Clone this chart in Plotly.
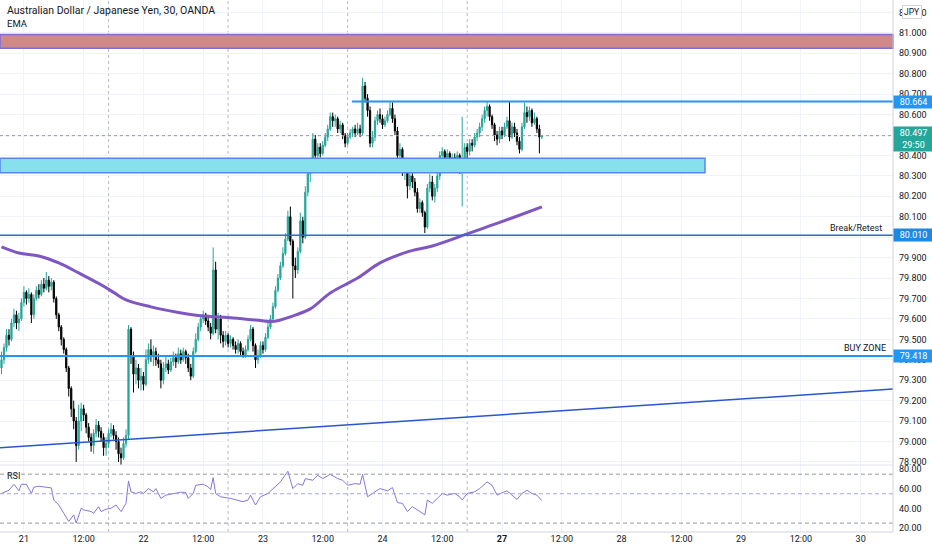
import plotly.graph_objects as go

# AUD/JPY 30-minute candles, bar index 0 = day 21 00:00 (48 bars per day)
first_open = 79.36
close = [
    79.40, 79.46, 79.52, 79.50, 79.58, 79.62, 79.58, 79.60, 79.68, 79.73,
    79.70, 79.72, 79.62, 79.70, 79.74, 79.72, 79.77, 79.75, 79.79, 79.76,
    79.78, 79.70, 79.62, 79.56, 79.50, 79.45, 79.36, 79.26, 79.16, 79.10,
    78.98, 79.10, 79.16, 79.13, 79.07, 79.02, 78.98, 79.04, 79.08, 79.05,
    79.02, 78.97, 78.99, 79.04, 79.06, 79.03, 79.00, 78.94, 78.92, 78.99,
    79.03, 79.55, 79.42, 79.33, 79.36, 79.30, 79.32, 79.28, 79.40, 79.45,
    79.42, 79.44, 79.40, 79.38, 79.30, 79.36, 79.38, 79.35, 79.39, 79.41,
    79.39, 79.43, 79.40, 79.44, 79.41, 79.36, 79.32, 79.44, 79.50, 79.56,
    79.60, 79.62, 79.59, 79.56, 79.53, 79.84, 79.55, 79.60, 79.52, 79.49,
    79.52, 79.48, 79.50, 79.47, 79.45, 79.48, 79.44, 79.42, 79.45, 79.50,
    79.55, 79.47, 79.40, 79.42, 79.47, 79.45, 79.51, 79.56, 79.60, 79.66,
    79.74, 79.80, 79.86, 79.92, 79.99, 80.10, 79.98, 79.86, 79.84, 79.93,
    80.08, 80.00, 80.22, 80.31, 80.37, 80.48, 80.40, 80.44, 80.41, 80.45,
    80.49, 80.53, 80.59, 80.57, 80.58, 80.53, 80.55, 80.50, 80.46, 80.49,
    80.51, 80.53, 80.51, 80.53, 80.51, 80.74, 80.68, 80.62, 80.46, 80.49,
    80.57, 80.60, 80.58, 80.55, 80.57, 80.60, 80.63, 80.58, 80.52, 80.40,
    80.43, 80.33, 80.36, 80.25, 80.30, 80.27, 80.22, 80.14, 80.17, 80.12,
    80.05, 80.24, 80.27, 80.20, 80.24, 80.30, 80.40, 80.42, 80.39, 80.41,
    80.36, 80.39, 80.37, 80.40, 80.33, 80.38, 80.44, 80.42, 80.46, 80.45,
    80.49, 80.51, 80.54, 80.58, 80.62, 80.64, 80.59, 80.55, 80.50, 80.48,
    80.52, 80.50, 80.54, 80.57, 80.49, 80.54, 80.51, 80.47, 80.43, 80.54,
    80.61, 80.59, 80.62, 80.56, 80.58, 80.53, 80.49, 80.497,
]
high = [
    79.44, 79.48, 79.55, 79.55, 79.60, 79.65, 79.64, 79.63, 79.70, 79.76,
    79.74, 79.75, 79.73, 79.72, 79.76, 79.77, 79.79, 79.80, 79.83, 79.81,
    79.80, 79.79, 79.71, 79.63, 79.57, 79.51, 79.46, 79.37, 79.27, 79.20,
    79.12, 79.18, 79.19, 79.18, 79.14, 79.09, 79.04, 79.06, 79.11, 79.10,
    79.07, 79.04, 79.02, 79.06, 79.09, 79.08, 79.05, 79.02, 78.97, 79.02,
    79.06, 79.57, 79.56, 79.44, 79.40, 79.38, 79.36, 79.34, 79.45, 79.48,
    79.50, 79.47, 79.46, 79.43, 79.40, 79.39, 79.42, 79.40, 79.41, 79.44,
    79.43, 79.46, 79.45, 79.46, 79.45, 79.43, 79.38, 79.46, 79.53, 79.58,
    79.62, 79.64, 79.63, 79.61, 79.58, 79.95, 79.88, 79.63, 79.62, 79.54,
    79.54, 79.53, 79.52, 79.51, 79.49, 79.50, 79.49, 79.46, 79.47, 79.52,
    79.57, 79.56, 79.48, 79.45, 79.49, 79.49, 79.53, 79.58, 79.62, 79.68,
    79.76, 79.82, 79.88, 79.95, 80.02, 80.13, 80.15, 79.99, 79.90, 79.95,
    80.12, 80.10, 80.25, 80.34, 80.39, 80.51, 80.50, 80.46, 80.46, 80.47,
    80.51, 80.55, 80.61, 80.61, 80.60, 80.59, 80.57, 80.56, 80.51, 80.51,
    80.53, 80.54, 80.55, 80.56, 80.55, 80.78, 80.76, 80.70, 80.64, 80.52,
    80.59, 80.62, 80.63, 80.60, 80.59, 80.62, 80.66, 80.66, 80.60, 80.54,
    80.46, 80.44, 80.39, 80.37, 80.33, 80.32, 80.29, 80.24, 80.19, 80.18,
    80.13, 80.26, 80.31, 80.30, 80.26, 80.33, 80.42, 80.44, 80.43, 80.43,
    80.42, 80.41, 80.41, 80.42, 80.41, 80.59, 80.46, 80.46, 80.48, 80.48,
    80.51, 80.53, 80.56, 80.60, 80.64, 80.665, 80.65, 80.60, 80.56, 80.52,
    80.54, 80.54, 80.56, 80.59, 80.665, 80.56, 80.56, 80.53, 80.49, 80.56,
    80.66, 80.64, 80.64, 80.63, 80.61, 80.59, 80.55, 80.50,
]
low = [
    79.33, 79.38, 79.44, 79.47, 79.49, 79.56, 79.55, 79.54, 79.59, 79.66,
    79.67, 79.68, 79.58, 79.60, 79.69, 79.70, 79.71, 79.73, 79.74, 79.73,
    79.74, 79.68, 79.60, 79.54, 79.47, 79.43, 79.34, 79.22, 79.12, 79.06,
    78.90, 78.96, 79.05, 79.10, 79.04, 79.00, 78.95, 78.94, 79.02, 79.02,
    79.00, 78.93, 78.93, 78.97, 79.02, 79.01, 78.96, 78.90, 78.885, 78.91,
    78.97, 79.01, 79.38, 79.24, 79.28, 79.26, 79.25, 79.25, 79.27, 79.38,
    79.39, 79.37, 79.37, 79.36, 79.26, 79.28, 79.34, 79.33, 79.34, 79.37,
    79.36, 79.38, 79.38, 79.39, 79.38, 79.34, 79.30, 79.31, 79.43, 79.49,
    79.54, 79.58, 79.57, 79.54, 79.50, 79.52, 79.53, 79.50, 79.48, 79.46,
    79.47, 79.46, 79.46, 79.45, 79.43, 79.43, 79.42, 79.41, 79.41, 79.44,
    79.49, 79.44, 79.36, 79.38, 79.41, 79.43, 79.44, 79.50, 79.55, 79.59,
    79.65, 79.73, 79.79, 79.85, 79.91, 79.98, 79.96, 79.70, 79.80, 79.82,
    79.92, 79.97, 79.99, 80.20, 80.27, 80.36, 80.38, 80.38, 80.39, 80.40,
    80.44, 80.47, 80.52, 80.54, 80.54, 80.51, 80.51, 80.48, 80.44, 80.45,
    80.48, 80.49, 80.49, 80.50, 80.49, 80.50, 80.66, 80.59, 80.44, 80.44,
    80.47, 80.55, 80.56, 80.53, 80.54, 80.56, 80.59, 80.56, 80.50, 80.37,
    80.37, 80.30, 80.28, 80.19, 80.23, 80.24, 80.20, 80.12, 80.12, 80.10,
    80.02, 80.04, 80.22, 80.18, 80.17, 80.22, 80.28, 80.38, 80.37, 80.37,
    80.34, 80.34, 80.35, 80.35, 80.31, 80.15, 80.33, 80.38, 80.40, 80.42,
    80.44, 80.47, 80.49, 80.52, 80.56, 80.59, 80.57, 80.53, 80.47, 80.45,
    80.46, 80.48, 80.49, 80.53, 80.47, 80.48, 80.49, 80.45, 80.41, 80.42,
    80.53, 80.56, 80.57, 80.54, 80.55, 80.51, 80.41, 80.48,
]
open_ = [first_open] + close[:-1]  # FX bars open at the prior close
bars = list(range(-9, -9 + len(close)))

# EMA
ema_bar = [-9, -2, 6, 14, 22, 31, 36, 41, 51, 61, 71, 84, 95, 99, 103,
           107, 115, 123, 134, 143, 154, 164, 178, 187, 196, 208]
ema_val = [79.953, 79.923, 79.908, 79.874, 79.825, 79.767, 79.730, 79.693,
           79.659, 79.634, 79.615, 79.605, 79.592, 79.587, 79.595, 79.610,
           79.649, 79.727, 79.800, 79.874, 79.928, 79.957, 80.016, 80.055,
           80.094, 80.148]

# RSI
rsi_bar = [-9, -6, -4, -2, -1, 1, 3, 4, 6, 9, 11, 12, 14, 16, 18, 20, 21, 23,
           24, 27, 28, 30, 31, 33, 35, 37, 39, 41, 42, 43, 45, 47, 48, 50, 52,
           53, 55, 57, 60, 63, 65, 66, 68, 69, 72, 74, 75, 76, 77, 79, 83, 86,
           88, 90, 91, 93, 95, 98, 100, 103, 106, 108, 110, 112, 113, 116, 118,
           120, 123, 126, 128, 130, 133, 135, 136, 138, 140, 143, 146, 148,
           150, 152, 154, 156, 158, 161, 162, 164, 166, 168, 170, 173, 175,
           176, 178, 181, 183, 186, 188, 190, 192, 194, 196, 198, 200, 202,
           203, 204, 206, 208]
rsi_val = [55.3, 58.6, 64.7, 58.0, 64.7, 64.7, 55.3, 61.7, 62.7, 62.0, 61.0,
           48.6, 43.5, 35.1, 26.7, 33.4, 25.0, 40.2, 38.5, 36.8, 35.1, 41.8,
           36.8, 39.2, 40.2, 43.5, 36.8, 45.2, 68.1, 57.0, 55.3, 57.0, 55.3,
           60.3, 57.0, 60.3, 50.2, 53.6, 55.3, 56.6, 56.3, 50.2, 55.3, 63.7,
           64.7, 62.0, 59.3, 71.5, 55.3, 51.9, 50.2, 48.6, 46.9, 48.6, 53.6,
           43.5, 51.9, 55.3, 60.3, 67.1, 78.0, 60.3, 65.4, 63.7, 70.5, 68.8,
           73.9, 70.5, 74.9, 70.5, 68.8, 63.7, 65.4, 64.7, 74.9, 51.9, 55.3,
           60.3, 58.0, 61.3, 45.9, 45.2, 36.8, 41.8, 38.5, 33.4, 48.6, 45.2,
           50.2, 55.3, 53.6, 55.3, 51.9, 48.6, 55.3, 57.0, 60.3, 67.1, 63.7,
           53.6, 56.0, 58.0, 53.6, 49.2, 55.3, 58.6, 57.0, 55.3, 53.6, 47.9]

# x-axis labels
tick_bars = [0, 24, 48, 72, 96, 120, 144, 168, 192, 216, 240, 264, 288, 312, 336]
tick_text = ['21', '12:00', '22', '12:00', '23', '12:00', '24', '12:00',
             '<b>27</b>', '12:00', '28', '12:00', '29', '12:00', '30']
session_breaks = [34, 82, 130, 178]

# drawn levels and zones
last_price = 80.497
countdown = '29:50'
resistance = 80.664
resistance_start = 131.7
break_retest = 80.010
buy_zone = 79.418
red_zone = (80.925, 80.992)
cyan_zone = (80.316, 80.387)
cyan_zone_end = 273.5
trend_start = (-9.6, 78.969)
trend_end = (349, 79.257)

x_range = [-9.6, 349]
price_range = [78.885, 81.161]
price_ticks = [round(78.9 + 0.1 * k, 1) for k in range(23)]
rsi_range = [15.9, 84.4]
rsi_bands = [75, 55, 25]

UP = '#26a69a'
DOWN = '#000000'
TXT = '#131722'
FONT = 'Roboto'
PANE = 67 / 532

fig = go.Figure()
fig.add_trace(go.Candlestick(
    x=bars, open=open_, high=high, low=low, close=close,
    increasing=dict(line=dict(color=UP, width=1), fillcolor=UP),
    decreasing=dict(line=dict(color=DOWN, width=1), fillcolor=DOWN),
    whiskerwidth=0, xaxis='x', yaxis='y', showlegend=False))
fig.add_trace(go.Scatter(
    x=ema_bar, y=ema_val, mode='lines', yaxis='y', showlegend=False,
    line=dict(color='#7e57c2', width=3, shape='spline')))
fig.add_trace(go.Scatter(
    x=rsi_bar, y=rsi_val, mode='lines', yaxis='y2', showlegend=False,
    line=dict(color='#8579d6', width=1)))

shapes = []
# zones
shapes.append(dict(type='rect', xref='paper', yref='y', x0=0, x1=1,
                   y0=red_zone[0], y1=red_zone[1], fillcolor='#d08888',
                   line=dict(color='#7b6fd6', width=1.5), layer='above'))
shapes.append(dict(type='rect', xref='x', yref='y', x0=x_range[0], x1=cyan_zone_end,
                   y0=cyan_zone[0], y1=cyan_zone[1], fillcolor='#86e1ec',
                   line=dict(color='#5b86e8', width=1.5), layer='above'))
# levels
shapes.append(dict(type='line', xref='x', yref='y', x0=resistance_start, x1=x_range[1],
                   y0=resistance, y1=resistance, line=dict(color='#2196f3', width=2)))
shapes.append(dict(type='line', xref='paper', yref='y', x0=0, x1=1,
                   y0=break_retest, y1=break_retest, line=dict(color='#1e6fdc', width=1.5)))
shapes.append(dict(type='line', xref='paper', yref='y', x0=0, x1=1,
                   y0=buy_zone, y1=buy_zone, line=dict(color='#2196f3', width=2)))
shapes.append(dict(type='line', xref='x', yref='y', x0=trend_start[0], x1=trend_end[0],
                   y0=trend_start[1], y1=trend_end[1], line=dict(color='#2a55d0', width=1.5)))
shapes.append(dict(type='line', xref='paper', yref='y', x0=0, x1=1,
                   y0=last_price, y1=last_price, line=dict(color='#9598a1', width=1, dash='dot')))
# session breaks
for b in session_breaks:
    shapes.append(dict(type='line', xref='x', yref='paper', x0=b, x1=b, y0=0, y1=1,
                       line=dict(color='#b8bbc4', width=1, dash='3px,3px'), layer='below'))
# rsi bands
for v, c in zip(rsi_bands, ['#9598a1', '#a3a3e6', '#9598a1']):
    shapes.append(dict(type='line', xref='paper', yref='y2', x0=0, x1=1, y0=v, y1=v,
                       line=dict(color=c, width=1, dash='4px,3px')))
# pane borders
shapes.append(dict(type='line', xref='paper', yref='paper', x0=0, x1=1, y0=PANE, y1=PANE,
                   line=dict(color='#e0e3eb', width=1)))
shapes.append(dict(type='line', xref='paper', yref='paper', x0=0, x1=1, y0=0, y1=0,
                   line=dict(color='#d1d4dc', width=1)))
shapes.append(dict(type='line', xref='paper', yref='paper', x0=1, x1=1, y0=0, y1=1,
                   line=dict(color='#d1d4dc', width=1)))

ann = []
ann.append(dict(text='Australian Dollar / Japanese Yen, 30, OANDA', xref='paper', yref='paper',
                x=0.006, y=0.981, xanchor='left', yanchor='middle', showarrow=False,
                font=dict(family=FONT, size=10.5, color=TXT)))
ann.append(dict(text='EMA', xref='paper', yref='paper', x=0.006, y=0.955,
                xanchor='left', yanchor='middle', showarrow=False,
                font=dict(family=FONT, size=9.5, color=TXT)))
ann.append(dict(text='RSI', xref='paper', yref='paper', x=0.006, y=0.105,
                xanchor='left', yanchor='middle', showarrow=False,
                font=dict(family=FONT, size=9, color=TXT)))
ann.append(dict(text='Break/Retest', xref='paper', yref='y', x=0.99, y=break_retest,
                yshift=7, xanchor='right', yanchor='middle', showarrow=False,
                font=dict(family=FONT, size=9, color=TXT)))
ann.append(dict(text='BUY ZONE', xref='paper', yref='y', x=0.994, y=buy_zone,
                yshift=8, xanchor='right', yanchor='middle', showarrow=False,
                font=dict(family=FONT, size=9, color=TXT)))
for v, c in [(resistance, '#2196f3'), (break_retest, '#1e88e5'), (buy_zone, '#2196f3')]:
    ann.append(dict(text=f'{v:.3f}', xref='paper', yref='y', x=1, y=v, xanchor='left',
                    yanchor='middle', showarrow=False, bgcolor=c, width=37, align='center',
                    borderpad=1, font=dict(family=FONT, size=9, color='white')))
ann.append(dict(text=f'{last_price:.3f}<br>{countdown}', xref='paper', yref='y', x=1,
                y=last_price, yshift=-3, xanchor='left', yanchor='middle', showarrow=False,
                bgcolor=UP, width=37, align='center', borderpad=1,
                font=dict(family=FONT, size=9, color='white')))
ann.append(dict(text='JPY', xref='paper', yref='paper', x=1.021, y=0.977, xanchor='center',
                yanchor='middle', showarrow=False, bgcolor='white', bordercolor='#d1d4dc',
                borderwidth=1, borderpad=1, font=dict(family=FONT, size=8.5, color=TXT)))

fig.update_layout(
    width=932, height=550,
    margin=dict(l=0, r=39, t=0, b=18),
    paper_bgcolor='white', plot_bgcolor='white',
    font=dict(family=FONT, size=9, color=TXT),
    showlegend=False,
    xaxis=dict(range=x_range, anchor='y2', tickvals=tick_bars, ticktext=tick_text,
               showgrid=True, gridcolor='#f0f3fa', zeroline=False, showline=False,
               rangeslider=dict(visible=False), ticks='', tickfont=dict(size=9)),
    yaxis=dict(domain=[PANE, 1], range=price_range, side='right', anchor='x',
               tickvals=price_ticks, tickformat='.3f', showgrid=True, gridcolor='#f0f3fa',
               zeroline=False, ticks='', ticklabelstandoff=5, tickfont=dict(size=9)),
    yaxis2=dict(domain=[0, PANE], range=rsi_range, side='right', anchor='x',
                tickvals=[20, 40, 60, 80], tickformat='.2f', showgrid=False,
                zeroline=False, ticks='', ticklabelstandoff=5, tickfont=dict(size=9)),
    shapes=shapes, annotations=ann,
)

# the page's default 8px body margin would push the 932px figure off the window
fig.write_html('out.html', config={'displayModeBar': False},
               post_script="document.body.style.margin='0px';")
